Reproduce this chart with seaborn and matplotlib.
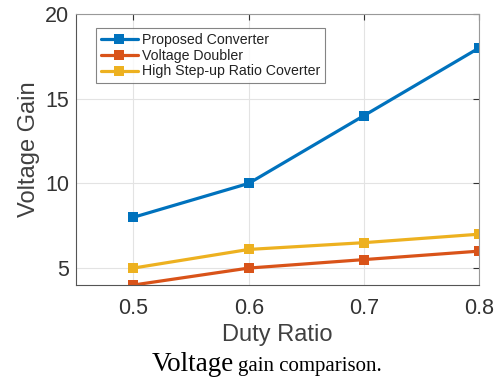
import matplotlib
matplotlib.use("Agg")
import matplotlib.pyplot as plt
import seaborn as sns
import pandas as pd

duty = [0.5, 0.6, 0.7, 0.8]
proposed = [8, 10, 14, 18]
doubler = [4, 5, 5.5, 6]
high_step = [5, 6.1, 6.5, 7]
series_names = ["Proposed Converter", "Voltage Doubler", "High Step-up Ratio Coverter"]
colors = ["#0072BD", "#D95319", "#EDB120"]
xticks = [0.5, 0.6, 0.7, 0.8]
yticks = [5, 10, 15, 20]

rows = []
for name, vals in zip(series_names, [proposed, doubler, high_step]):
    for x, y in zip(duty, vals):
        rows.append({"Duty Ratio": x, "Voltage Gain": y, "Series": name})
df = pd.DataFrame(rows)

sns.set_style("white")
plt.rcParams['font.family'] = ['Liberation Sans', 'DejaVu Sans']

fig = plt.figure(figsize=(4.96, 3.79), dpi=100)
ax = fig.add_axes([0.153, 0.248, 0.813, 0.715])

sns.lineplot(data=df, x="Duty Ratio", y="Voltage Gain", hue="Series", style="Series",
             hue_order=series_names, style_order=series_names,
             palette=colors, markers=["s", "s", "s"], dashes=False,
             linewidth=2.3, markersize=7, markeredgewidth=0, ax=ax)

ax.set_xlim(0.45, 0.8)
ax.set_ylim(4, 20)
ax.set_xticks(xticks)
ax.set_xticklabels([str(t) for t in xticks])
ax.set_yticks(yticks)
ax.grid(True, color="#e3e3e3", linewidth=0.8)
ax.set_axisbelow(True)
for s in ax.spines.values():
    s.set_color("#555555")
    s.set_linewidth(0.8)
ax.spines["top"].set_color("#999999")
ax.spines["right"].set_color("#999999")
ax.tick_params(axis="both", direction="in", length=4, labelsize=15.5, colors="#333333",
               top=True, right=True, pad=9)
ax.tick_params(axis="y", pad=5)
ax.set_xlabel("Duty Ratio", fontsize=17, color="#404040", labelpad=4)
ax.set_ylabel("Voltage Gain", fontsize=17, color="#404040", labelpad=3.5)

leg = ax.legend(loc="upper left", bbox_to_anchor=(0.05, 0.948), borderaxespad=0,
                fontsize=10.2, frameon=True, fancybox=False, handlelength=2.6,
                handletextpad=0.3, labelspacing=0.12, borderpad=0.35)
leg.get_frame().set_edgecolor("#666666")
leg.get_frame().set_linewidth(0.8)
for t in leg.get_texts():
    t.set_color("#222222")

t1 = fig.text(152 / 496, 1 - 371 / 379, "Voltage", fontsize=19.5,
              family=["Liberation Serif", "DejaVu Serif"], color="black", va="baseline")
fig.canvas.draw()
bb = t1.get_window_extent()
fig.text((bb.x1 + 4) / fig.bbox.width, 1 - 371 / 379, "gain comparison.", fontsize=15,
         family=["Liberation Serif", "DejaVu Serif"], color="black", va="baseline")

fig.savefig("out.png", dpi=100)
